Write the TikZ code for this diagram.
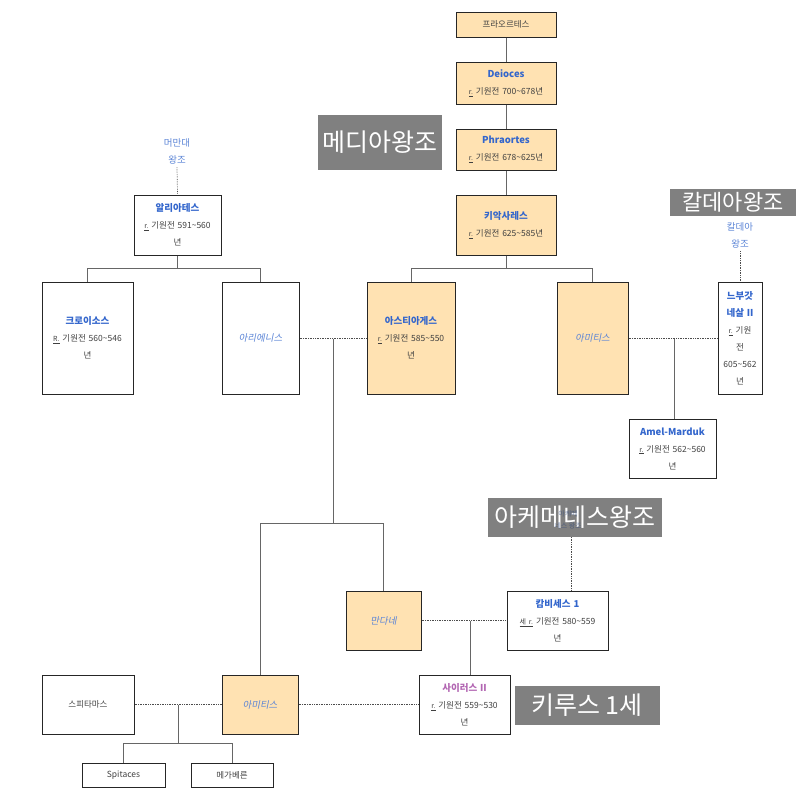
\documentclass[tikz,border=0pt]{standalone}
\usepackage{fontspec}
\setmainfont{Noto Sans CJK KR}
\newfontfamily\slantfont[FakeSlant=0.2]{Noto Sans CJK KR}
\definecolor{peach}{RGB}{255,226,178}
\definecolor{nblue}{RGB}{51,102,204}
\begin{document}
\begin{tikzpicture}[x=1pt,y=-1pt,
 box/.style={draw=black!85,line width=1pt,inner sep=1pt,align=center,font=\fontsize{8.5}{17}\selectfont,text=black!75},
 gold/.style={box,fill=peach},
 lbl/.style={fill=black!50,text=white,inner sep=0pt},
 ln/.style={draw=black!60,line width=0.7pt},
 dt/.style={draw=black!70,line width=0.7pt,densely dotted},
 sm/.style={align=center,font=\fontsize{9.5}{17}\selectfont,text=nblue!80}]
\newcommand{\nmb}[1]{{\color{nblue}\bfseries\fontsize{9.5}{17}\selectfont #1}}
\newcommand{\nmi}[1]{{\color{nblue!80}\slantfont\fontsize{9.5}{17}\selectfont #1}}
\newcommand{\rr}{\underline{\scriptsize r.}}
\useasboundingbox (0,0) rectangle (800,796);
\def\bx#1#2#3#4#5#6#7{\node[#6,minimum width=#3-#2,minimum height=#5-#4,text width=#3-#2-4] (#1) at ({(#2+#3)/2},{(#4+#5)/2}) {#7};}
\bx{pr}{456}{556}{12}{37}{gold}{프라오르테스}
\bx{de}{456}{556}{62}{104}{gold}{\nmb{Deioces}\\\rr\ 기원전 700\textasciitilde678년}
\bx{ph}{456}{556}{129}{170}{gold}{\nmb{Phraortes}\\\rr\ 기원전 678\textasciitilde625년}
\bx{ky}{456}{556}{195}{255}{gold}{\nmb{키악사레스}\\\rr\ 기원전 625\textasciitilde585년}
\bx{al}{134}{221}{195}{255}{box}{\nmb{알리아테스}\\\rr\ 기원전 591\textasciitilde560\\년}
\bx{kr}{42}{133}{282}{394}{box}{\nmb{크로이소스}\\\underline{\scriptsize R.}\ 기원전 560\textasciitilde546\\년}
\bx{ar}{222}{299}{282}{394}{box}{\nmi{아리에니스}}
\bx{as}{367}{455}{282}{394}{gold}{\nmb{아스티아게스}\\\rr\ 기원전 585\textasciitilde550\\년}
\bx{am}{557}{628}{282}{394}{gold}{\nmi{아미티스}}
\bx{nb}{718}{762}{282}{394}{box}{\nmb{느부갓}\\\nmb{네살 II}\\\rr\ 기원\\전\\605\textasciitilde562\\년}
\bx{amel}{629}{716}{419}{478}{box}{\nmb{Amel-Marduk}\\\rr\ 기원전 562\textasciitilde560\\년}
\bx{ma}{346}{421}{591}{650}{gold}{\nmi{만다네}}
\bx{ca}{507}{608}{591}{650}{box}{\nmb{캄비세스 1}\\\underline{\scriptsize 세 r.}\ 기원전 580\textasciitilde559\\년}
\bx{cy}{419}{510}{675}{734}{box}{{\color{violet!60}\bfseries\fontsize{9.5}{17}\selectfont 사이러스 II}\\\rr\ 기원전 559\textasciitilde530\\년}
\bx{am2}{222}{298}{675}{734}{gold}{\nmi{아미티스}}
\bx{sp}{42}{134}{675}{734}{box}{스피타마스}
\bx{st}{82}{165}{763}{787}{box}{Spitaces}
\bx{me}{191}{273}{763}{787}{box}{메가베른}
\node[sm] (mm) at (177,151) {머만대\\왕조};
\node[sm] (kd) at (740,235) {칼데아\\왕조};
\node[lbl,font=\fontsize{25}{27}\selectfont,minimum width=124,minimum height=55] (l1) at (380,142) {메디아왕조};
\node[lbl,font=\fontsize{22}{24}\selectfont,minimum width=126,minimum height=27] (l2) at (733,202) {칼데아왕조};
\node[lbl,font=\fontsize{25}{27}\selectfont,minimum width=174,minimum height=39] (l3) at (575,517) {아케메네스왕조};
\node[sm,font=\fontsize{7}{12}\selectfont,text=nblue!60!black,opacity=0.5] (ak) at (568,520) {아케메\\네스 왕조};
\node[lbl,font=\fontsize{25}{27}\selectfont,minimum width=145,minimum height=39] (l4) at (587,705) {키루스 1세};
\coordinate (c1) at (333,339);
\coordinate (c2) at (674,339);
\coordinate (c3) at (470,621);
\coordinate (c4) at (178,705);
\coordinate (c5) at (571,537);
\coordinate (c6) at (333,523);
\coordinate (c7) at (178,743);
\draw[ln] (pr) -- (de); \draw[ln] (de) -- (ph); \draw[ln] (ph) -- (ky);
\draw[ln] (al.south) -- ++(0,13) -| (kr.north); \draw[ln] (al.south) ++(0,13) -| (ar.north);
\draw[ln] (ky.south) -- ++(0,13) -| (as.north); \draw[ln] (ky.south) ++(0,13) -| (am.north);
\draw[dt] (mm.south) -- (al.north);
\draw[dt] (kd.south) -- (nb.north);
\draw[dt] (ar.east) -- (as.west);
\draw[dt] (am.east) -- (nb.west);
\draw[ln] (c2) -- (c2 |- amel.north);
\draw[ln] (c1) -- (c6) -| (ma.north); \draw[ln] (c6) -| (am2.north);
\draw[dt] (c5) -- (c5 |- ca.north);
\draw[dt] (ma.east) -- (ca.west);
\draw[ln] (c3) -- (c3 |- cy.north);
\draw[dt] (sp.east) -- (am2.west);
\draw[dt] (am2.east) -- (cy.west);
\draw[ln] (c4) -- (c7) -| (st.north); \draw[ln] (c7) -| (me.north);
\end{tikzpicture}
\end{document}
